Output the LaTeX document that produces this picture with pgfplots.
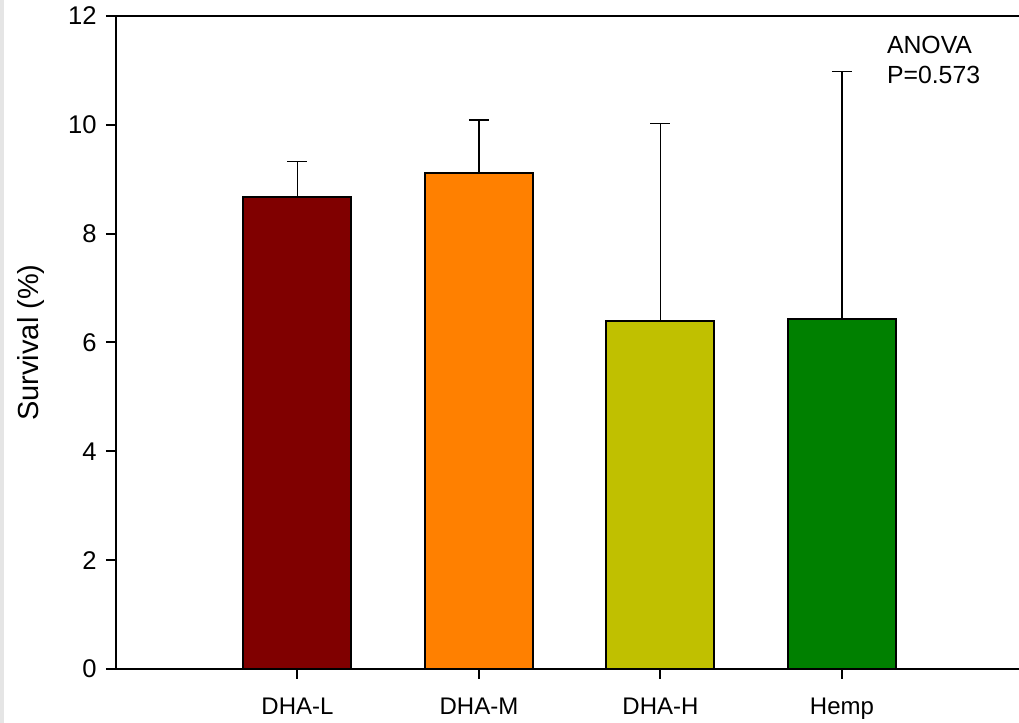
\documentclass[border=0pt]{standalone}
\usepackage{pgfplots}
\pgfplotsset{compat=1.18}
\usepackage{fontspec}
\setmainfont{Liberation Sans}

\definecolor{dhal}{RGB}{128,0,0}
\definecolor{dham}{RGB}{255,128,0}
\definecolor{dhah}{RGB}{192,192,0}
\definecolor{hemp}{RGB}{0,128,0}
\definecolor{strip}{RGB}{229,229,229}

\begin{document}
\begin{tikzpicture}
\fill[strip] (0,0) rectangle (2pt,361.5pt);
\begin{axis}[
  at={(58pt,27pt)}, anchor=south west,
  scale only axis, width=453.75pt, height=326.5pt,
  xmin=0, xmax=5, ymin=0, ymax=12,
  axis line style={line width=1pt},
  xtick={1,2,3,4},
  xticklabels={DHA-L,DHA-M,DHA-H,Hemp},
  ytick={0,2,4,6,8,10,12},
  xtick pos=lower, ytick pos=left,
  tick align=outside,
  major tick length=5pt,
  major tick style={line width=1pt, black},
  /pgf/number format/assume math mode=true,
  yticklabel style={font=\fontsize{12.8}{15}\selectfont, xshift=-1.2pt},
  xticklabel style={font=\fontsize{12}{14}\selectfont, yshift=-5.8pt},
  ylabel={Survival (\%)},
  every axis y label/.style={at={(axis description cs:-0.0942,0.5)}, rotate=90,
    anchor=center, font=\fontsize{14.5}{17}\selectfont},
  ybar, bar width=54pt, bar shift=0pt,
  every axis plot/.append style={draw=black, line width=1pt},
  error bars/y dir=plus, error bars/y explicit,
  error bars/error mark options={rotate=90, mark size=5pt, line width=0.75pt, black},
  error bars/error bar style={line width=0.75pt, black},
]
\addplot[fill=dhal] coordinates {(1,8.67) +- (0,0.66)};
\addplot[fill=dham] coordinates {(2,9.12) +- (0,0.97)};
\addplot[fill=dhah] coordinates {(3,6.40) +- (0,3.62)};
\addplot[fill=hemp] coordinates {(4,6.43) +- (0,4.55)};
\node[anchor=north west, inner sep=0pt, align=left, font=\fontsize{12.4}{15.4}\selectfont]
  at (axis cs:4.246,11.642) {ANOVA\\P=0.573};
\end{axis}
\pgfresetboundingbox
\useasboundingbox (0,0) rectangle (509.5pt,361.5pt);
\end{tikzpicture}
\end{document}
